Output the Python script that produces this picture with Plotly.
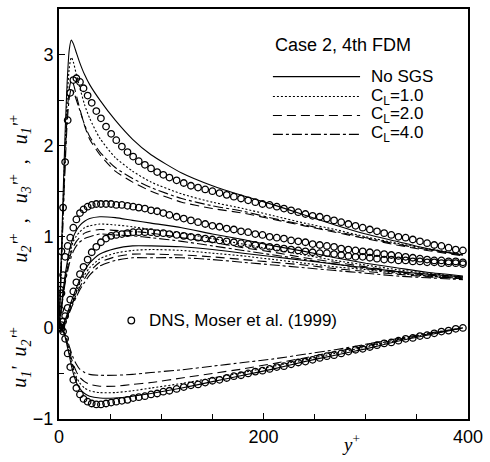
import plotly.graph_objects as go

# ---------------- DNS (Moser et al. 1999) ----------------
dns_y = [0, 1.2, 2.4, 4, 6, 8.5, 11, 14, 17, 20.5,
         24, 28, 32, 36.5, 41, 46, 51, 56, 61.5, 67,
         72.5, 78, 84, 90, 96, 102, 108, 115, 122, 129,
         136, 143, 150, 157, 164, 171, 178, 185, 192, 199,
         206, 213, 220, 227, 234, 241, 248, 255, 262, 269,
         276, 283, 290, 297, 304, 311, 318, 325, 332, 339,
         346, 353, 360, 367, 374, 381, 388, 395]
dns_u1 = [0, 0.42, 0.84, 1.32, 1.82, 2.28, 2.58, 2.72, 2.74, 2.70,
          2.63, 2.55, 2.47, 2.38, 2.30, 2.21, 2.13, 2.06, 1.99, 1.93,
          1.88, 1.83, 1.79, 1.75, 1.71, 1.68, 1.65, 1.62, 1.59, 1.56,
          1.54, 1.52, 1.50, 1.48, 1.46, 1.44, 1.42, 1.40, 1.38, 1.36,
          1.35, 1.33, 1.31, 1.29, 1.27, 1.25, 1.23, 1.22, 1.20, 1.18,
          1.16, 1.14, 1.12, 1.10, 1.08, 1.06, 1.04, 1.02, 1.00, 0.99,
          0.97, 0.95, 0.93, 0.91, 0.90, 0.88, 0.86, 0.85]
dns_u3 = [0, 0.20, 0.38, 0.58, 0.78, 0.90, 0.99, 1.10, 1.19, 1.26,
          1.30, 1.33, 1.35, 1.36, 1.36, 1.36, 1.36, 1.35, 1.35, 1.34,
          1.33, 1.32, 1.31, 1.29, 1.28, 1.26, 1.24, 1.22, 1.20, 1.18,
          1.16, 1.14, 1.12, 1.11, 1.09, 1.08, 1.06, 1.05, 1.03, 1.02,
          1.00, 0.99, 0.98, 0.96, 0.95, 0.94, 0.92, 0.91, 0.90, 0.89,
          0.87, 0.86, 0.85, 0.84, 0.83, 0.82, 0.81, 0.80, 0.79, 0.78,
          0.77, 0.76, 0.75, 0.74, 0.74, 0.73, 0.73, 0.72]
dns_u2 = [0, 0.01, 0.03, 0.07, 0.13, 0.22, 0.31, 0.40, 0.50, 0.59,
          0.67, 0.75, 0.83, 0.89, 0.94, 0.98, 1.01, 1.02, 1.03, 1.04,
          1.05, 1.05, 1.05, 1.05, 1.04, 1.04, 1.03, 1.02, 1.01, 1.00,
          0.99, 0.98, 0.97, 0.96, 0.95, 0.94, 0.93, 0.92, 0.91, 0.90,
          0.89, 0.88, 0.87, 0.86, 0.85, 0.84, 0.83, 0.82, 0.82, 0.81,
          0.80, 0.79, 0.78, 0.78, 0.77, 0.76, 0.75, 0.75, 0.74, 0.74,
          0.73, 0.73, 0.72, 0.72, 0.71, 0.71, 0.71, 0.70]
dns_uv = [0, 0, -0.01, -0.04, -0.12, -0.28, -0.43, -0.57, -0.66, -0.73,
          -0.78, -0.81, -0.83, -0.84, -0.84, -0.83, -0.82, -0.81, -0.80, -0.79,
          -0.77, -0.76, -0.75, -0.73, -0.72, -0.70, -0.69, -0.67, -0.65, -0.63,
          -0.62, -0.60, -0.58, -0.57, -0.55, -0.53, -0.52, -0.50, -0.48, -0.47,
          -0.45, -0.43, -0.42, -0.40, -0.38, -0.37, -0.35, -0.33, -0.31, -0.30,
          -0.28, -0.26, -0.24, -0.23, -0.21, -0.19, -0.17, -0.16, -0.14, -0.12,
          -0.11, -0.09, -0.08, -0.06, -0.04, -0.03, -0.01, 0.0]

# ---------------- LES (Case 2, 4th FDM) ----------------
les_y = [0, 2, 4, 6, 8, 10, 12, 14, 17, 20, 25, 30, 40, 55, 72, 90,
         120, 150, 180, 210, 240, 270, 300, 330, 360, 395]

u1_nosgs = [0, 0.70, 1.45, 2.15, 2.70, 3.05, 3.16, 3.12, 3.02, 2.92, 2.78, 2.67, 2.50, 2.28, 2.07, 1.90,
            1.70, 1.56, 1.45, 1.35, 1.24, 1.13, 1.03, 0.95, 0.87, 0.80]
u1_cl1 = [0, 0.66, 1.35, 2.00, 2.52, 2.85, 2.97, 2.92, 2.78, 2.65, 2.45, 2.30, 2.08, 1.87, 1.72, 1.60,
          1.47, 1.38, 1.31, 1.23, 1.15, 1.08, 1.00, 0.93, 0.87, 0.81]
u1_cl2 = [0, 0.60, 1.25, 1.85, 2.35, 2.62, 2.72, 2.68, 2.55, 2.42, 2.22, 2.07, 1.90, 1.72, 1.60, 1.50,
          1.38, 1.31, 1.26, 1.19, 1.12, 1.05, 0.98, 0.91, 0.85, 0.79]
u1_cl4 = [0, 0.58, 1.20, 1.78, 2.25, 2.52, 2.62, 2.60, 2.50, 2.40, 2.23, 2.10, 1.93, 1.76, 1.64, 1.54,
          1.42, 1.34, 1.28, 1.20, 1.13, 1.06, 0.99, 0.92, 0.86, 0.80]

u3_nosgs = [0, 0.20, 0.40, 0.58, 0.72, 0.84, 0.93, 1.00, 1.07, 1.12, 1.17, 1.20, 1.22, 1.21, 1.18, 1.15,
            1.10, 1.03, 0.97, 0.90, 0.84, 0.77, 0.71, 0.66, 0.61, 0.57]
u3_cl1 = [0, 0.19, 0.38, 0.55, 0.68, 0.79, 0.88, 0.95, 1.01, 1.05, 1.10, 1.12, 1.14, 1.13, 1.11, 1.08,
          1.04, 0.98, 0.92, 0.86, 0.80, 0.74, 0.69, 0.64, 0.60, 0.56]
u3_cl2 = [0, 0.18, 0.36, 0.52, 0.64, 0.75, 0.83, 0.89, 0.95, 0.99, 1.04, 1.06, 1.08, 1.07, 1.06, 1.04,
          0.99, 0.94, 0.88, 0.83, 0.77, 0.72, 0.67, 0.62, 0.58, 0.55]
u3_cl4 = [0, 0.17, 0.34, 0.49, 0.60, 0.70, 0.78, 0.84, 0.90, 0.94, 0.98, 1.00, 1.03, 1.02, 1.01, 0.99,
          0.95, 0.90, 0.85, 0.80, 0.75, 0.70, 0.65, 0.61, 0.57, 0.54]

u2_nosgs = [0, 0.01, 0.04, 0.09, 0.15, 0.22, 0.29, 0.35, 0.44, 0.52, 0.63, 0.71, 0.81, 0.87, 0.90, 0.90,
            0.89, 0.86, 0.82, 0.78, 0.74, 0.70, 0.66, 0.62, 0.59, 0.56]
u2_cl1 = [0, 0.01, 0.04, 0.08, 0.13, 0.20, 0.26, 0.32, 0.40, 0.48, 0.58, 0.66, 0.76, 0.82, 0.85, 0.86,
          0.85, 0.82, 0.79, 0.75, 0.71, 0.67, 0.64, 0.60, 0.57, 0.55]
u2_cl2 = [0, 0.01, 0.03, 0.07, 0.12, 0.18, 0.24, 0.29, 0.37, 0.44, 0.54, 0.62, 0.72, 0.78, 0.81, 0.81,
          0.80, 0.78, 0.75, 0.72, 0.69, 0.65, 0.62, 0.59, 0.56, 0.54]
u2_cl4 = [0, 0.01, 0.03, 0.06, 0.11, 0.16, 0.22, 0.27, 0.34, 0.41, 0.50, 0.58, 0.68, 0.74, 0.77, 0.77,
          0.77, 0.75, 0.72, 0.69, 0.66, 0.63, 0.60, 0.57, 0.55, 0.53]

uv_nosgs = [0, -0.01, -0.04, -0.10, -0.20, -0.30, -0.41, -0.50, -0.60, -0.66, -0.72, -0.75, -0.77, -0.77, -0.75, -0.72,
            -0.66, -0.59, -0.52, -0.45, -0.37, -0.30, -0.23, -0.15, -0.08, 0]
uv_cl1 = [0, -0.01, -0.04, -0.09, -0.18, -0.27, -0.37, -0.45, -0.54, -0.60, -0.66, -0.69, -0.71, -0.71, -0.69, -0.66,
          -0.61, -0.55, -0.49, -0.42, -0.35, -0.28, -0.21, -0.14, -0.07, 0]
uv_cl2 = [0, -0.01, -0.03, -0.08, -0.16, -0.24, -0.33, -0.40, -0.48, -0.54, -0.59, -0.62, -0.64, -0.64, -0.62, -0.60,
          -0.55, -0.50, -0.45, -0.39, -0.33, -0.26, -0.20, -0.13, -0.07, 0]
uv_cl4 = [0, -0.01, -0.03, -0.07, -0.13, -0.20, -0.27, -0.33, -0.40, -0.45, -0.49, -0.51, -0.52, -0.52, -0.51, -0.49,
          -0.46, -0.42, -0.38, -0.34, -0.29, -0.24, -0.18, -0.12, -0.06, 0]

case_labels = ["No SGS", "C<sub>L</sub>=1.0", "C<sub>L</sub>=2.0", "C<sub>L</sub>=4.0"]
case_dash = ["solid", "2px,2px", "9px,5px", "10px,3px,3px,3px"]
case_series = [
    [u1_nosgs, u3_nosgs, u2_nosgs, uv_nosgs],
    [u1_cl1, u3_cl1, u2_cl1, uv_cl1],
    [u1_cl2, u3_cl2, u2_cl2, uv_cl2],
    [u1_cl4, u3_cl4, u2_cl4, uv_cl4],
]

fig = go.Figure()

for dash, group in zip(case_dash, case_series):
    for vals in group:
        fig.add_trace(go.Scatter(
            x=les_y, y=vals, mode="lines",
            line=dict(color="black", width=1.1, dash=dash, shape="spline", smoothing=0.6),
            showlegend=False, hoverinfo="skip"))

for vals in [dns_u1, dns_u3, dns_u2, dns_uv]:
    fig.add_trace(go.Scatter(
        x=dns_y, y=vals, mode="markers",
        marker=dict(symbol="circle-open", size=6.5, color="black", line=dict(width=1.3, color="black")),
        showlegend=False, hoverinfo="skip"))

L, R, T, B = 59, 18, 7, 43
W, H = 490, 462
pw, ph = W - L - R, H - T - B

def px(xp):
    return (xp - L) / pw

def py(yp):
    return (H - B - yp) / ph

font_sans = "Liberation Sans, Arial, Helvetica, sans-serif"
font_serif = "Liberation Serif, Times New Roman, serif"

annotations = []
shapes = []

# legend block
annotations.append(dict(x=px(275), y=py(43), xref="paper", yref="paper", xanchor="left", yanchor="middle",
                        text="Case 2, 4th FDM", showarrow=False, font=dict(family=font_sans, size=18, color="black")))
rows_y = [75, 95, 114, 133]
for lab, dash, ry in zip(case_labels, case_dash, rows_y):
    shapes.append(dict(type="line", xref="paper", yref="paper", x0=px(275), x1=px(363), y0=py(ry), y1=py(ry),
                       line=dict(color="black", width=1.1, dash=dash)))
    annotations.append(dict(x=px(372), y=py(ry), xref="paper", yref="paper", xanchor="left", yanchor="middle",
                            text=lab, showarrow=False, font=dict(family=font_sans, size=17, color="black")))

# DNS legend
shapes.append(dict(type="circle", xref="paper", yref="paper", xsizemode="pixel", ysizemode="pixel",
                   xanchor=px(132), yanchor=py(320), x0=-3.3, x1=3.3, y0=-3.3, y1=3.3,
                   line=dict(color="black", width=1.3)))
annotations.append(dict(x=px(148), y=py(320), xref="paper", yref="paper", xanchor="left", yanchor="middle",
                        text="DNS, Moser et al. (1999)", showarrow=False,
                        font=dict(family=font_sans, size=17, color="black")))

# axis titles
annotations.append(dict(x=px(20), y=py(187), xref="paper", yref="paper", xanchor="center", yanchor="middle",
                        textangle=-90, showarrow=False,
                        text="<i>u</i><sub><i>2</i></sub><i>'</i><sup>+</sup>  ,   <i>u</i><sub><i>3</i></sub><i>'</i><sup>+</sup>  ,   <i>u</i><sub><i>1</i></sub><i>'</i><sup>+</sup>",
                        font=dict(family=font_serif, size=20, color="black")))
annotations.append(dict(x=px(20), y=py(357), xref="paper", yref="paper", xanchor="center", yanchor="middle",
                        textangle=-90, showarrow=False,
                        text="<i>u</i><sub><i>1</i></sub><i>'</i>  <i>u</i><sub><i>2</i></sub><i>'</i><sup>+</sup>",
                        font=dict(family=font_serif, size=20, color="black")))
annotations.append(dict(x=px(354), y=py(443), xref="paper", yref="paper", xanchor="center", yanchor="middle",
                        showarrow=False, text="<i>y</i><sup>+</sup>",
                        font=dict(family=font_serif, size=19, color="black")))

fig.update_layout(
    width=W, height=H,
    margin=dict(l=L, r=R, t=T, b=B),
    paper_bgcolor="white", plot_bgcolor="white",
    showlegend=False,
    annotations=annotations, shapes=shapes,
    font=dict(family=font_sans, size=18, color="black"),
)
fig.update_xaxes(range=[0, 400], tickvals=[0, 200, 400], ticks="inside", ticklen=6, tickwidth=1.2,
                 tickcolor="black", showline=True, linewidth=2, linecolor="black", mirror=True,
                 showgrid=False, zeroline=False, tickfont=dict(size=18),
                 minor=dict(tickvals=[50, 100, 150, 250, 300, 350], ticks="inside", ticklen=5,
                            tickwidth=1.2, tickcolor="black"))
fig.update_yaxes(range=[-1, 3.5], tickvals=[-1, 0, 1, 2, 3], ticks="inside", ticklen=6, tickwidth=1.2,
                 tickcolor="black", showline=True, linewidth=2, linecolor="black", mirror=True,
                 showgrid=False, zeroline=False, tickfont=dict(size=18),
                 minor=dict(tickvals=[-0.5, 0.5, 1.5, 2.5, 3.5], ticks="inside", ticklen=5,
                            tickwidth=1.2, tickcolor="black"))

fig.write_html("out.html")
